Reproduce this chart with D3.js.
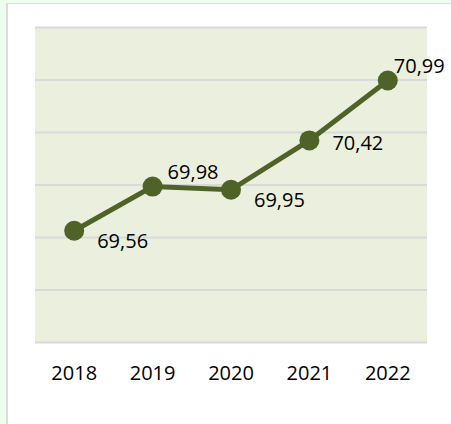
<!DOCTYPE html>
<html>
<head>
<meta charset="utf-8">
<script src="https://d3js.org/d3.v7.min.js"></script>
<style>
	body {
		margin: 0;
		background: #effdef;
		font-family: "Open Sans", "Liberation Sans", sans-serif;
		overflow: hidden;
	}
	.card {
		position: absolute;
		left: 6px;
		top: 3px;
		width: 460px;
		height: 440px;
		background: #fff;
		border-left: 2px solid #dcdcdc;
		border-top: 1px solid #dcdcdc;
	}
	svg {
		position: absolute;
		left: 0;
		top: 0;
	}
</style>
</head>
<body>
<div class="card"></div>
<script>
	// data
	var years = ["2018", "2019", "2020", "2021", "2022"];
	var values = [69.56, 69.98, 69.95, 70.42, 70.99];
	var yTicks = [68.5, 69, 69.5, 70, 70.5, 71, 71.5];

	// where each value label sits relative to its point
	var labelPlace = ["right-low", "above", "right-low", "right", "above-near"];

	var width = 451, height = 424;
	var plot = {left: 35, right: 427, top: 27, bottom: 342};

	var svg = d3.select("body").append("svg")
		.attr("width", width)
		.attr("height", height);

	// title, mostly above the window (only descenders show)
	svg.append("text")
		.attr("x", 305)
		.attr("y", -4)
		.attr("text-anchor", "middle")
		.style("font-weight", "bold")
		.style("font-size", "17px")
		.text("Esperança de vida à nascença em Portugal");

	var x = d3.scaleBand().domain(years).range([plot.left, plot.right]);
	var y = d3.scaleLinear().domain([68.5, 71.5]).range([plot.bottom, plot.top]);

	svg.append("rect")
		.attr("x", plot.left)
		.attr("y", plot.top)
		.attr("width", plot.right - plot.left)
		.attr("height", plot.bottom - plot.top)
		.attr("fill", "#ebf0de");

	// grid lines
	svg.append("g")
		.attr("transform", "translate(" + plot.left + ",0)")
		.call(d3.axisLeft(y).tickValues(yTicks).tickSize(-(plot.right - plot.left)).tickFormat(""))
		.call(function(g) {
			g.select(".domain").remove();
			g.selectAll("line").attr("stroke", "#d9d9d9").attr("stroke-width", 2);
		});

	// x axis labels
	svg.append("g")
		.attr("transform", "translate(0," + plot.bottom + ")")
		.call(d3.axisBottom(x).tickSize(0).tickPadding(24))
		.call(function(g) {
			g.select(".domain").remove();
			g.selectAll("text")
				.style("font-family", "'Open Sans', sans-serif")
				.style("font-size", "20px")
				.attr("fill", "#000");
		});

	var cx = function(d, i) { return x(years[i]) + x.bandwidth() / 2; };

	var line = d3.line()
		.x(function(d, i) { return cx(d, i); })
		.y(function(d) { return y(d); });

	svg.append("path")
		.datum(values)
		.attr("d", line)
		.attr("fill", "none")
		.attr("stroke", "#4f6228")
		.attr("stroke-width", 5);

	svg.selectAll("circle.pt")
		.data(values)
		.enter().append("circle")
		.attr("class", "pt")
		.attr("cx", cx)
		.attr("cy", function(d) { return y(d); })
		.attr("r", 10)
		.attr("fill", "#4f6228");

	var fmt = function(v) { return d3.format(".2f")(v).replace(".", ","); };

	svg.selectAll("text.lbl")
		.data(values)
		.enter().append("text")
		.attr("class", "lbl")
		.attr("x", function(d, i) {
			var p = labelPlace[i];
			if (p == "above") return cx(d, i) + 15;
			if (p == "above-near") return cx(d, i) + 6;
			return cx(d, i) + 23;
		})
		.attr("y", function(d, i) {
			var p = labelPlace[i];
			if (p == "above" || p == "above-near") return y(d) - 8;
			if (p == "right-low") return y(d) + 17;
			return y(d) + 10;
		})
		.style("font-size", "20px")
		.attr("fill", "#000")
		.text(fmt);
</script>
</body>
</html>
